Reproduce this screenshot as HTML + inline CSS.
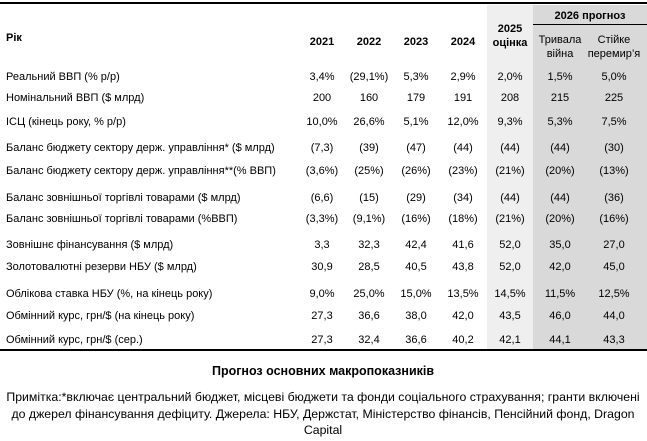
<!DOCTYPE html>
<html><head><meta charset="utf-8"><style>
body{margin:0;width:647px;height:441px;background:#fff;position:relative;overflow:hidden;font-family:"Liberation Sans",sans-serif;font-size:11px;color:#000}
.a{position:absolute;white-space:nowrap;line-height:14px}
.l{left:6px}
.c{transform:translateX(-50%);text-align:center}
.b{font-weight:bold}
</style></head><body>
<div class="a" style="left:487px;top:5px;width:46px;height:344px;background:#efefef"></div>
<div class="a" style="left:533px;top:5px;width:114px;height:344px;background:#d9d9d9"></div>
<div class="a" style="left:0;top:2px;width:647px;height:2px;background:#000"></div>
<div class="a" style="left:533px;top:24px;width:114px;height:1px;background:#000"></div>
<div class="a" style="left:0;top:349px;width:647px;height:2px;background:#000"></div>
<div class="a b c" style="left:590px;top:9px">2026 прогноз</div>
<div class="a b l" style="top:31px">Рік</div>
<div class="a b c" style="left:322px;top:35px">2021</div>
<div class="a b c" style="left:369px;top:35px">2022</div>
<div class="a b c" style="left:416px;top:35px">2023</div>
<div class="a b c" style="left:463px;top:35px">2024</div>
<div class="a b c" style="left:510px;top:22px">2025<br>оцінка</div>
<div class="a c" style="left:560px;top:33px">Тривала<br>війна</div>
<div class="a c" style="left:614px;top:33px">Стійке<br>перемир’я</div>
<div id="rows"></div>
<div class="a b c" style="left:323px;top:364px;font-size:12.5px">Прогноз основних макропоказників</div>
<div class="a c" style="left:323px;top:389px;text-align:center;line-height:16.5px;font-size:12.3px">Примітка:*включає центральний бюджет, місцеві бюджети та фонди соціального страхування; гранти включені<br>до джерел фінансування дефіциту. Джерела: НБУ, Держстат, Міністерство фінансів, Пенсійний фонд, Dragon<br>Capital</div>
<script>
var R=[[77,"Реальний ВВП (% р/р)","3,4%","(29,1%)","5,3%","2,9%","2,0%","1,5%","5,0%"],
[98,"Номінальний ВВП ($ млрд)","200","160","179","191","208","215","225"],
[122,"ІСЦ (кінець року, % р/р)","10,0%","26,6%","5,1%","12,0%","9,3%","5,3%","7,5%"],
[148,"Баланс бюджету сектору держ. управління* ($ млрд)","(7,3)","(39)","(47)","(44)","(44)","(44)","(30)"],
[171,"Баланс бюджету сектору держ. управління**(% ВВП)","(3,6%)","(25%)","(26%)","(23%)","(21%)","(20%)","(13%)"],
[198,"Баланс зовнішньої торгівлі товарами ($  млрд)","(6,6)","(15)","(29)","(34)","(44)","(44)","(36)"],
[219,"Баланс зовнішньої торгівлі товарами (%ВВП)","(3,3%)","(9,1%)","(16%)","(18%)","(21%)","(20%)","(16%)"],
[245,"Зовнішнє фінансування ($ млрд)","3,3","32,3","42,4","41,6","52,0","35,0","27,0"],
[267,"Золотовалютні резерви НБУ ($ млрд)","30,9","28,5","40,5","43,8","52,0","42,0","45,0"],
[294,"Облікова ставка НБУ (%, на кінець року)","9,0%","25,0%","15,0%","13,5%","14,5%","11,5%","12,5%"],
[316,"Обмінний курс, грн/$ (на кінець року)","27,3","36,6","38,0","42,0","43,5","46,0","44,0"],
[340,"Обмінний курс, грн/$  (сер.)","27,3","32,4","36,6","40,2","42,1","44,1","43,3"]];
var X=[322,369,416,463,510,560,614],h="";
R.forEach(function(r){var t=r[0]-7;h+='<div class="a l" style="top:'+t+'px">'+r[1]+'</div>';
for(var i=0;i<7;i++)h+='<div class="a c" style="left:'+X[i]+'px;top:'+t+'px">'+r[i+2]+'</div>';});
document.getElementById("rows").innerHTML=h;
</script>
</body></html>
